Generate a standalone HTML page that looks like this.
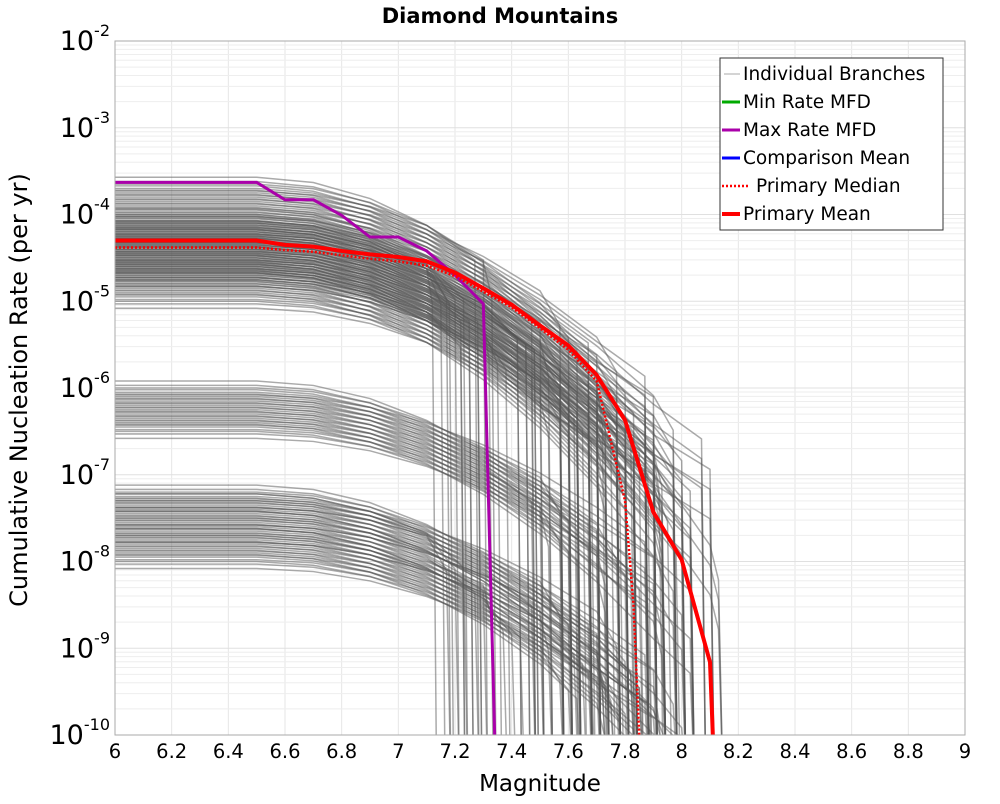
<!DOCTYPE html>
<html><head><meta charset="utf-8"><style>
body{margin:0;background:#fff;font-family:"DejaVu Sans","Liberation Sans",sans-serif}
svg text{font-family:"DejaVu Sans","Liberation Sans",sans-serif}
</style></head><body>
<svg id="chart" width="1000" height="800" xmlns="http://www.w3.org/2000/svg">
<defs><clipPath id="pc"><rect x="115" y="41" width="850" height="694"/></clipPath></defs>
<text x="500" y="23" text-anchor="middle" font-size="21" font-weight="bold">Diamond Mountains</text>
<g id="grid"></g>
<g id="branches" clip-path="url(#pc)"></g>
<g id="main" clip-path="url(#pc)"></g>
<rect x="115" y="41" width="850" height="694" fill="none" stroke="#aaa"/>
<g id="axes"></g>
<text x="540" y="791" text-anchor="middle" font-size="23">Magnitude</text>
<text transform="translate(27,390) rotate(-90)" text-anchor="middle" font-size="24">Cumulative Nucleation Rate (per yr)</text>
<g>
<rect x="720" y="58" width="223" height="172" fill="#fff" stroke="#333"/>
<g font-size="18.5">
<g><line x1="724" y1="74" x2="740" y2="74" stroke="#aaa"/><text x="743" y="80">Individual Branches</text></g>
<g><line x1="722" y1="102" x2="740" y2="102" stroke="#0a0" stroke-width="3"/><text x="743" y="108">Min Rate MFD</text></g>
<g><line x1="722" y1="130" x2="740" y2="130" stroke="#a0a" stroke-width="3"/><text x="743" y="136">Max Rate MFD</text></g>
<g><line x1="722" y1="158" x2="740" y2="158" stroke="#00f" stroke-width="3"/><text x="743" y="164">Comparison Mean</text></g>
<g><line x1="722" y1="186" x2="750" y2="186" stroke="#f00" stroke-width="2.5" stroke-dasharray="2,2"/><text x="756" y="192">Primary Median</text></g>
<g><line x1="722" y1="214" x2="740" y2="214" stroke="#f00" stroke-width="4"/><text x="743" y="220">Primary Mean</text></g>
</g></g>
</svg>
<script>
const xTicks=[6,6.2,6.4,6.6,6.8,7,7.2,7.4,7.6,7.8,8,8.2,8.4,8.6,8.8,9];
const yDecades=[-2,-3,-4,-5,-6,-7,-8,-9,-10];
const meanMags=[6,6.5,6.6,6.7,6.8,6.9,7,7.1,7.2,7.3,7.4,7.5,7.6,7.7,7.8,7.9,8,8.1,8.11];
const meanLog=[-4.30,-4.30,-4.35,-4.37,-4.42,-4.46,-4.49,-4.54,-4.67,-4.85,-5.04,-5.28,-5.51,-5.85,-6.37,-7.43,-7.98,-9.16,-10];
const medianMags=[6,6.5,6.6,6.7,6.8,6.9,7,7.1,7.2,7.3,7.4,7.5,7.6,7.7,7.8,7.83,7.85];
const medianLog=[-4.38,-4.38,-4.41,-4.43,-4.47,-4.51,-4.54,-4.59,-4.71,-4.89,-5.07,-5.31,-5.56,-5.92,-7.3,-8.5,-10];
const maxMags=[6,6.5,6.6,6.7,6.8,6.9,7,7.1,7.2,7.3,7.34];
const maxLog=[-3.63,-3.63,-3.83,-3.83,-4.01,-4.26,-4.26,-4.42,-4.70,-5.03,-10];
const branchLog=[-3.65,-3.7,-3.75,-3.8,-3.85,-3.9,-3.95,-4.0,-4.02,-4.05,-4.08,-4.1,-4.12,-4.15,-4.18,-4.2,-4.22,-4.25,-4.28,-4.3,-4.32,-4.35,-4.38,-4.4,-4.42,-4.45,-4.48,-4.5,-4.52,-4.55,-4.58,-4.6,-4.62,-4.65,-4.68,-4.7,-4.72,-4.75,-4.8,-4.85,-4.9,-4.95,-5.0,-4.25,-4.35,-4.45,-4.55,-4.65,-4.75,-4.15,
-6.0,-6.05,-6.1,-6.15,-6.2,-6.25,-6.3,-6.35,-6.4,-6.45,-6.5,
-7.2,-7.25,-7.3,-7.35,-7.4,-7.45,-7.5,-7.55,-7.6,-7.65,-7.7,-7.75,-7.8,-7.85,-7.9,-7.95,-8.0,-7.3,-7.5,-7.7];
const branchCut=[7.3,7.6,7.8,7.9,8.0,7.7,8.1,7.5,7.9,7.8,8.0,7.2,7.7,7.9,8.1,7.6,7.8,7.45,8.0,7.9,7.7,7.25,7.8,8.0,7.6,7.9,7.35,7.8,8.1,7.7,7.9,7.6,8.0,7.8,7.5,7.9,7.7,7.8,7.6,7.9,7.7,7.8,8.0,7.45,7.75,7.85,7.95,7.25,7.65,7.15,
7.9,7.6,8.0,7.7,7.8,7.5,7.9,7.85,7.6,7.7,8.0,
7.8,7.6,7.9,7.7,8.0,7.5,7.85,7.3,7.95,7.75,7.65,7.4,7.8,7.9,7.7,8.1,7.6,7.2,7.85,7.75];
const NS="http://www.w3.org/2000/svg";
const X=m=>115+(m-6)*850/3, Y=l=>41+(-2-l)*694/8;
function mk(p,t,a){const e=document.createElementNS(NS,t);for(const k in a)e.setAttribute(k,a[k]);p.appendChild(e);return e;}
const grid=document.getElementById('grid'),axes=document.getElementById('axes');
xTicks.forEach(t=>{const g=mk(grid,'line',{x1:X(t),x2:X(t),y1:41,y2:735,stroke:'#e6e6e6'});


const tx=mk(axes,'text',{x:X(t),y:758,'text-anchor':'middle','font-size':19.5});tx.textContent=String(t);

});
yDecades.forEach(d=>{if(d>-10)for(let k=2;k<10;k++){const l=mk(grid,'line',{x1:115,x2:965,y1:Y(d-1+Math.log10(k)),y2:Y(d-1+Math.log10(k)),stroke:'#eee'});

}
const g=mk(grid,'line',{x1:115,x2:965,y1:Y(d),y2:Y(d),stroke:'#e0e0e0'});


const tx=mk(axes,'text',{x:110,y:Y(d)+9,'text-anchor':'end','font-size':27});
tx.innerHTML='10<tspan dy="-14" font-size="16">'+d+'</tspan>';

});
const br=document.getElementById('branches');
const offs=[-0.08,0,0.08];
branchLog.forEach((b0,i)=>{const c0=branchCut[i];offs.forEach((o,j)=>{const b=b0+o;const c=c0+(j-1)*0.03;
const ms=[6,6.5,6.7,6.9,7.1,7.3,7.5,7.7,7.9,8.1];
let pts=[];for(const m of ms){if(m>=c)break;const f=Math.max(0,m-6.5);pts.push([m,b-f*f*(b>-5.5?1.1:0.9)*(1+j*0.2)]);}
const last=pts[pts.length-1];pts.push([c,last[1]-0.4]);pts.push([c+0.015,-10.5]);
const p=mk(br,'polyline',{points:pts.map(q=>X(q[0])+','+Y(q[1])).join(' '),fill:'none',stroke:'#555','stroke-opacity':0.5,'stroke-width':1.5});

});});
const main=document.getElementById('main');
function line(ms,ls,st,name){const p=mk(main,'polyline',Object.assign({points:ms.map((m,i)=>X(m)+','+Y(ls[i])).join(' '),fill:'none'},st));

}
line(maxMags,maxLog,{stroke:'#a0a','stroke-width':3},'max-rate-line');
line(medianMags,medianLog,{stroke:'#f00','stroke-width':2.5,'stroke-dasharray':'2,2'},'median-line');
line(meanMags,meanLog,{stroke:'#f00','stroke-width':4},'mean-line');
</script>
</body></html>
